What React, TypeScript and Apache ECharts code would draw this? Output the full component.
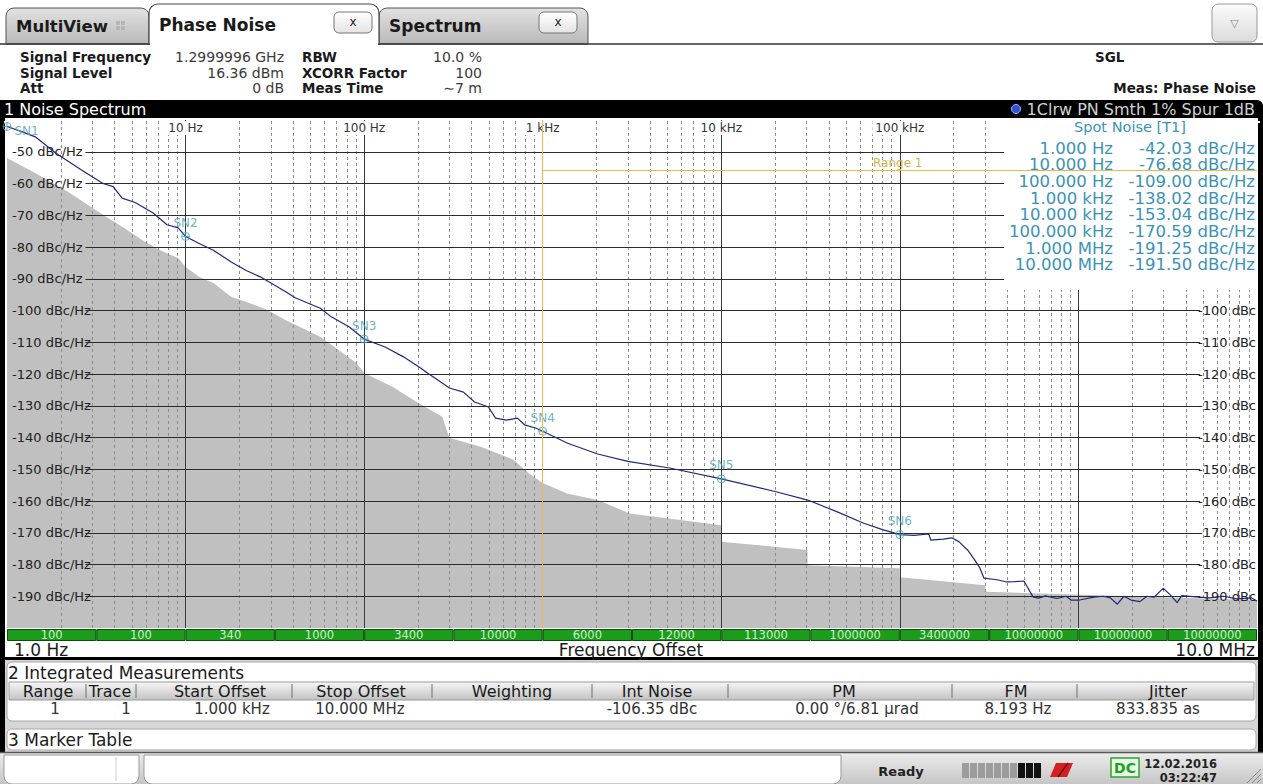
import React, { useEffect, useRef } from 'react';
import * as echarts from 'echarts';

const FONT = 'DejaVu Sans';

// ---------------- data ----------------
const traceFreqHz = [1, 1.2, 1.44, 1.88, 2.6, 3.45, 3.93, 4.41, 5.22, 6.58, 7.88, 9.09, 10, 12, 14.3, 18, 22, 26.2, 36.2, 41.1, 49, 56.8, 65.5, 82.6, 100, 131, 166, 206, 226, 260, 300, 360, 415, 497, 544, 627, 722, 791, 912, 1000, 1380, 2030, 3000, 5140, 10000, 20000, 30500, 45000, 62800, 80000, 100000, 120000, 145000, 149000, 175000, 195000, 214000, 240000, 263000, 280000, 296000, 350000, 398000, 440000, 495000, 557000, 598000, 654000, 759000, 855000, 908000, 1000000, 1220000, 1380000, 1510000, 1650000, 1800000, 1970000, 2210000, 2420000, 2650000, 2980000, 3260000, 3570000, 3790000, 4540000, 5420000, 6490000, 7740000, 9270000, 10000000];
const traceDb = [-42.03, -43.6, -45.3, -50.5, -55.7, -60.0, -61.0, -64.6, -66.0, -69.3, -73.0, -74.0, -76.68, -79.0, -81.0, -84.7, -87.5, -89.4, -94.0, -96.0, -97.8, -99.3, -102.0, -105.2, -109.0, -111.5, -114.6, -118.0, -119.7, -122.0, -124.4, -125.7, -128.8, -130.4, -133.9, -134.5, -133.9, -136.0, -137.0, -138.02, -141.8, -145.2, -147.5, -149.6, -153.04, -157.0, -159.7, -163.5, -167.0, -169.0, -170.59, -170.8, -170.4, -172.3, -172.0, -171.6, -172.8, -175.5, -178.6, -181.0, -184.3, -184.8, -185.5, -185.4, -185.2, -190.2, -190.6, -189.9, -190.7, -190.0, -191.2, -191.25, -190.3, -190.0, -190.5, -192.5, -190.0, -191.2, -191.7, -190.0, -190.3, -187.5, -189.5, -192.0, -189.8, -190.2, -190.5, -190.0, -190.8, -190.5, -191.5];

const floorFreqHz = [1, 1.44, 2.25, 2.84, 3.59, 4.53, 5.71, 7.2, 9.09, 10, 11.9, 14.3, 18, 22.7, 28.6, 36.2, 56.8, 71.7, 90.4, 100, 144, 199, 274, 300, 454, 686, 832, 1000, 1370, 2030, 3070, 10000, 10000, 30400, 30400, 100000, 100000, 301000, 301000, 10000000];
const floorDb = [-52, -56.7, -63, -66.8, -70.5, -74, -77.8, -81, -83.5, -86.3, -89.4, -91.3, -95.7, -97.6, -99.8, -103, -108.3, -112.4, -116.5, -119.7, -124, -129, -133.5, -140.1, -143, -147, -151.2, -154.3, -157.6, -159.7, -163.9, -167.6, -172.8, -175.4, -180.2, -181.2, -184, -186.5, -188.6, -191.2];

const spotFreqHz = [1, 10, 100, 1000, 10000, 100000, 1000000, 10000000];
const spotFreqLabels = ['1.000 Hz', '10.000 Hz', '100.000 Hz', '1.000 kHz', '10.000 kHz', '100.000 kHz', '1.000 MHz', '10.000 MHz'];
const spotDb = [-42.03, -76.68, -109.0, -138.02, -153.04, -170.59, -191.25, -191.5];
const markerNames = ['SN1', 'SN2', 'SN3', 'SN4', 'SN5', 'SN6'];

const decadeLabels = ['', '10 Hz', '100 Hz', '1 kHz', '10 kHz', '100 kHz', '', ''];
const yLeftTicks = [-50, -60, -70, -80, -90, -100, -110, -120, -130, -140, -150, -160, -170, -180, -190];
const yRightTicks = [-100, -110, -120, -130, -140, -150, -160, -170, -180, -190];
const minorMultipliers = [2, 3, 4, 5, 6, 7, 8, 9];
const minorDecadesHz = [1, 10, 100, 1000, 10000, 100000, 1000000];

const rbwLabels = ['100', '100', '340', '1000', '3400', '10000', '6000', '12000', '113000', '1000000', '3400000', '10000000', '10000000', '10000000'];

const rangeStartHz = 1000;
const rangeStopHz = 10000000;
const rangeLevelDb = -55.7;

const tableHeaders = ['Range', 'Trace', 'Start Offset', 'Stop Offset', 'Weighting', 'Int Noise', 'PM', 'FM', 'Jitter'];
const tableValues = ['1', '1', '1.000 kHz', '10.000 MHz', '', '-106.35 dBc', '0.00 °/6.81 µrad', '8.193 Hz', '833.835 as'];

const infoLeftLabels = ['Signal Frequency', 'Signal Level', 'Att'];
const infoLeftValues = ['1.2999996 GHz', '16.36 dBm', '0 dB'];
const infoMidLabels = ['RBW', 'XCORR Factor', 'Meas Time'];
const infoMidValues = ['10.0 %', '100', '\u223C7 m'];

// ---------------- layout ----------------
const GRID_LEFT = 7;
const GRID_RIGHT = 6;
const GRID_TOP = 120;
const GRID_BOTTOM = 156;
const GRID_LINE_START_HZ = 2.75;
const GRID_LINE_END_HZ = 4800000;
const INFO_ROWS_Y = [57, 73, 88];
const HEADER_X = [48, 110, 220, 361, 512, 657, 844, 1016, 1168];
const VALUE_X = [55, 126, 232, 360, 512, 652, 857, 1018, 1158];
const SEP_X = [86, 136, 292, 432, 592, 728, 952, 1077];
const SPOT_TEAL = '#3a93b6';

type AnyObj = Record<string, any>;

const txt = (x: number, y: number, text: string, o: AnyObj = {}) => ({
  type: 'text',
  x,
  y,
  z: o.z ?? 1,
  silent: true,
  style: {
    text,
    fill: o.color ?? '#222',
    fontSize: o.size ?? 14,
    fontFamily: FONT,
    fontWeight: o.weight ?? 'normal',
    align: o.align ?? 'left',
    textAlign: o.align ?? 'left',
    verticalAlign: 'middle',
    textVerticalAlign: 'middle',
  },
});

const rect = (x: number, y: number, w: number, h: number, style: AnyObj, z = 0, r: any = 0) => ({
  type: 'rect',
  z,
  silent: true,
  shape: { x, y, width: w, height: h, r },
  style,
});

const line = (x1: number, y1: number, x2: number, y2: number, stroke: string, lineWidth = 1, z = 1) => ({
  type: 'line',
  z,
  silent: true,
  shape: { x1, y1, x2, y2 },
  style: { stroke, lineWidth },
});

const vgrad = (c1: string, c2: string) =>
  new echarts.graphic.LinearGradient(0, 0, 0, 1, [
    { offset: 0, color: c1 },
    { offset: 1, color: c2 },
  ]);

function buildGraphic() {
  const g: AnyObj[] = [];
  // ---- tabs ----
  g.push(rect(6, 8, 143, 36, { fill: vgrad('#e2e2e2', '#b9b9b9'), stroke: '#555', lineWidth: 1 }, 0, [8, 8, 0, 0]));
  g.push(rect(379, 8, 209, 36, { fill: vgrad('#e2e2e2', '#b9b9b9'), stroke: '#555', lineWidth: 1 }, 0, [8, 8, 0, 0]));
  g.push(line(0, 44, 1263, 44, '#333', 1.5, 1));
  g.push(rect(149, 4, 230, 40, { fill: '#fff', stroke: '#444', lineWidth: 1.2 }, 2, [9, 9, 0, 0]));
  g.push(rect(150, 41, 228, 6, { fill: '#fff' }, 3));
  g.push(txt(16, 26, 'MultiView', { size: 16.5, weight: 'bold', color: '#1a1a1a', z: 4 }));
  [[116, 21], [121, 21], [116, 26], [121, 26]].forEach(([x, y]) =>
    g.push(rect(x, y, 4, 4, { fill: '#b4b4b4' }, 4, 1)),
  );
  g.push(txt(159, 25, 'Phase Noise', { size: 17, weight: 'bold', color: '#1a1a1a', z: 4 }));
  g.push(txt(389, 26, 'Spectrum', { size: 17, weight: 'bold', color: '#1a1a1a', z: 4 }));
  [334, 539].forEach((x) => {
    g.push(rect(x, 12, 38, 21, { fill: vgrad('#ffffff', '#e4e4e4'), stroke: '#777', lineWidth: 1 }, 4, 5));
    g.push(txt(x + 19, 22, 'x', { size: 12, align: 'center', color: '#222', z: 5 }));
  });
  g.push(rect(1212, 4, 45, 38, { fill: vgrad('#fbfbfb', '#dcdcdc'), stroke: '#999', lineWidth: 1 }, 4, 6));
  g.push(txt(1234.5, 23, '\u25BD', { size: 11, align: 'center', color: '#888', z: 5 }));

  // ---- info header ----
  infoLeftLabels.forEach((s, i) => g.push(txt(20, INFO_ROWS_Y[i], s, { size: 13.5, weight: 'bold', color: '#1a1a1a' })));
  infoLeftValues.forEach((s, i) => g.push(txt(284, INFO_ROWS_Y[i], s, { size: 14, align: 'right', color: '#3a3a3a' })));
  infoMidLabels.forEach((s, i) => g.push(txt(302, INFO_ROWS_Y[i], s, { size: 13.5, weight: 'bold', color: '#1a1a1a' })));
  infoMidValues.forEach((s, i) => g.push(txt(482, INFO_ROWS_Y[i], s, { size: 14, align: 'right', color: '#3a3a3a' })));
  g.push(txt(1095, 57, 'SGL', { size: 13.5, weight: 'bold', color: '#1a1a1a' }));
  g.push(txt(1256, 88, 'Meas: Phase Noise', { size: 13.5, weight: 'bold', color: '#1a1a1a', align: 'right' }));

  // ---- title bar & frame ----
  g.push(rect(0, 100, 1263, 18, { fill: '#000' }, 0, [0, 6, 0, 0]));
  g.push(txt(4, 109, '1 Noise Spectrum', { size: 16, color: '#fff', z: 2 }));
  g.push({ type: 'circle', z: 2, silent: true, shape: { cx: 1016, cy: 109, r: 4.5 }, style: { fill: '#2f52d6', stroke: '#9fb4ff', lineWidth: 1 } });
  g.push(txt(1255, 109, '1Clrw PN Smth 1% Spur 1dB', { size: 16, color: '#d0d0d0', align: 'right', z: 2 }));
  g.push(rect(0, 118, 5, 634, { fill: '#000' }, 0));
  g.push(rect(1258, 118, 5, 634, { fill: '#000' }, 0));
  g.push(rect(0, 657, 1263, 3, { fill: '#000' }, 0));

  // ---- frequency range labels ----
  g.push(txt(14, 650, '1.0 Hz', { size: 17, color: '#1a1a1a' }));
  g.push(txt(631, 650, 'Frequency Offset', { size: 17, color: '#1a1a1a', align: 'center' }));
  g.push(txt(1255, 650, '10.0 MHz', { size: 17, color: '#1a1a1a', align: 'right' }));

  // ---- integrated measurements ----
  g.push(rect(5, 660, 1253, 92, { fill: '#d6d6d6' }, 0));
  g.push(rect(7, 662, 1249, 59, { fill: '#fff', stroke: '#a8a8a8', lineWidth: 1 }, 1, 5));
  g.push(txt(8, 673, '2 Integrated Measurements', { size: 17, color: '#1a1a1a', z: 2 }));
  g.push(rect(9, 682, 1245, 18, { fill: vgrad('#f6f6f6', '#c2c2c2'), stroke: '#9a9a9a', lineWidth: 1 }, 2));
  SEP_X.forEach((x) => g.push(line(x, 684, x, 698, '#6e6e6e', 1, 3)));
  tableHeaders.forEach((s, i) => g.push(txt(HEADER_X[i], 691, s, { size: 16, color: '#1a1a1a', align: 'center', z: 3 })));
  tableValues.forEach((s, i) => {
    if (s) g.push(txt(VALUE_X[i], 709, s, { size: 15, color: '#333', align: 'center', z: 3 }));
  });
  g.push(rect(7, 729, 1249, 21, { fill: '#fff', stroke: '#a8a8a8', lineWidth: 1 }, 1, 5));
  g.push(txt(8, 740, '3 Marker Table', { size: 17, color: '#1a1a1a', z: 2 }));

  // ---- status bar ----
  g.push(rect(0, 752, 1263, 32, { fill: vgrad('#ededed', '#c6c6c6') }, 0));
  g.push(line(0, 752.5, 1263, 752.5, '#555', 1.5, 1));
  g.push(rect(4, 755, 135, 29, { fill: '#fff', stroke: '#999', lineWidth: 1 }, 1, [0, 0, 8, 8]));
  g.push(line(116, 757, 116, 781, '#cfcfcf', 1, 2));
  g.push(rect(144, 755, 697, 29, { fill: '#fff', stroke: '#999', lineWidth: 1 }, 1, [0, 0, 8, 8]));
  g.push(txt(901, 771, 'Ready', { size: 13, weight: 'bold', color: '#222', align: 'center', z: 2 }));
  for (let i = 0; i < 10; i++) {
    g.push(rect(962 + i * 8, 763, 7, 15, { fill: i < 7 ? '#9c9c9c' : '#111' }, 2));
  }
  g.push({ type: 'polygon', z: 2, silent: true, shape: { points: [[1050, 777], [1056, 763], [1073, 763], [1067, 777]] }, style: { fill: '#d42020' } });
  g.push(line(1058, 777, 1068, 763, '#7a0a0a', 1.5, 3));
  g.push(rect(1111, 758, 28, 19, { fill: '#e6fae6', stroke: '#2aa52a', lineWidth: 1.5 }, 2));
  g.push(txt(1125, 768, 'DC', { size: 14, weight: 'bold', color: '#1f9f1f', align: 'center', z: 3 }));
  g.push(txt(1217, 764, '12.02.2016', { size: 11.5, weight: 'bold', color: '#222', align: 'right', z: 2 }));
  g.push(txt(1217, 778, '03:22:47', { size: 11.5, weight: 'bold', color: '#222', align: 'right', z: 2 }));
  [0, 5, 10].forEach((d) => g.push(line(1247 + d, 783, 1261, 769 + d, '#888', 1, 2)));

  // ---- spot noise box (over grid) ----
  g.push(rect(1004, 118, 253, 172, { fill: '#fff' }, 6));
  g.push(txt(1130, 127, 'Spot Noise [T1]', { size: 14.5, color: SPOT_TEAL, align: 'center', z: 6 }));
  spotFreqLabels.forEach((s, i) => {
    const y = 148 + i * 16.7;
    g.push(txt(1113, y, s, { size: 16.5, color: SPOT_TEAL, align: 'right', z: 6 }));
    g.push(txt(1255, y, `${spotDb[i].toFixed(2)} dBc/Hz`, { size: 16.5, color: SPOT_TEAL, align: 'right', z: 6 }));
  });
  g.push(txt(873, 163, 'Range 1', { size: 12, color: '#d4b24c', z: 6 }));
  return g;
}

function buildOption() {
  const tracePoints = traceFreqHz.map((f, i) => [f, traceDb[i]]);
  const floorPoints = floorFreqHz.map((f, i) => [f, floorDb[i]]);
  const markerData = markerNames.map((n, i) => ({
    name: n,
    value: [spotFreqHz[i], spotDb[i]],
    label: i === 0 ? { position: 'right', distance: 3, offset: [0, 5] } : undefined,
  }));
  const minorLines: AnyObj[] = [];
  minorDecadesHz.forEach((d) =>
    minorMultipliers.forEach((m) =>
      minorLines.push({ xAxis: d * m, lineStyle: { type: [3, 3], color: '#8e8e8e', width: 1 } }),
    ),
  );
  const hLines = yLeftTicks.map((v) => [
    { coord: [GRID_LINE_START_HZ, v] },
    { coord: [v > -95 ? rangeStopHz : GRID_LINE_END_HZ, v] },
  ]);

  return {
    animation: false,
    backgroundColor: '#fff',
    textStyle: { fontFamily: FONT },
    grid: [
      { left: GRID_LEFT, right: GRID_RIGHT, top: GRID_TOP, bottom: GRID_BOTTOM, containLabel: false },
      { left: GRID_LEFT, right: GRID_RIGHT, top: 629, height: 12, containLabel: false },
    ],
    xAxis: [
      {
        type: 'log', gridIndex: 0, min: 1, max: 1e7, logBase: 10, splitNumber: 7, position: 'top', z: 3,
        axisLine: { show: false }, axisTick: { show: false }, splitLine: { show: false },
        axisLabel: {
          inside: true, margin: 1, fontSize: 12, fontFamily: FONT, color: '#333',
          backgroundColor: '#fff', padding: [1, 3, 1, 3],
          formatter: (v: number) => decadeLabels[Math.round(Math.log10(v))] ?? '',
        },
      },
      {
        type: 'log', gridIndex: 0, min: 1, max: 1e7, logBase: 10, splitNumber: 7, position: 'bottom', z: 2,
        axisLine: { show: false }, axisTick: { show: false }, axisLabel: { show: false },
        splitLine: { show: true, showMinLine: false, showMaxLine: false, lineStyle: { color: '#3a3a3a', width: 1 } },
      },
      { type: 'category', gridIndex: 1, data: rbwLabels, show: false },
    ],
    yAxis: [
      {
        type: 'value', gridIndex: 0, min: -200, max: -40, interval: 10, position: 'left', z: 3,
        axisLine: { show: false }, axisTick: { show: false }, splitLine: { show: false },
        axisLabel: {
          inside: true, margin: 5, fontSize: 13, fontFamily: FONT, color: '#222',
          formatter: (v: number) => (yLeftTicks.includes(v) ? `${v} dBc/Hz` : ''),
        },
      },
      {
        type: 'value', gridIndex: 0, min: -200, max: -40, interval: 10, position: 'right', z: 3,
        axisLine: { show: false }, axisTick: { show: false }, splitLine: { show: false },
        axisLabel: {
          inside: true, margin: 1, fontSize: 13, fontFamily: FONT, color: '#222',
          formatter: (v: number) => (yRightTicks.includes(v) ? `${v} dBc` : ''),
        },
      },
      { type: 'value', gridIndex: 1, min: 0, max: 1, show: false },
    ],
    graphic: { elements: buildGraphic() },
    series: [
      {
        type: 'line', name: 'floor', xAxisIndex: 0, yAxisIndex: 0, data: floorPoints,
        symbol: 'none', showSymbol: false, silent: true, z: 1,
        lineStyle: { width: 0, color: '#c0c0c0' },
        areaStyle: { color: '#c0c0c0', opacity: 1, origin: 'start' },
        markLine: {
          silent: true, symbol: ['none', 'none'], z: 2, animation: false,
          label: { show: false },
          lineStyle: { color: '#2b2b2b', width: 1, type: 'solid' },
          data: [...minorLines, ...hLines],
        },
      },
      {
        type: 'line', name: 'trace', xAxisIndex: 0, yAxisIndex: 0, data: tracePoints,
        symbol: 'none', showSymbol: false, silent: true, z: 4,
        lineStyle: { color: '#1e2a78', width: 1.2 },
        markLine: {
          silent: true, symbol: ['none', 'none'], z: 7, animation: false,
          label: { show: false },
          lineStyle: { color: '#f0b848', width: 1, type: 'solid' },
          data: [
            { xAxis: rangeStartHz },
            [{ coord: [rangeStartHz, rangeLevelDb] }, { coord: [rangeStopHz, rangeLevelDb] }],
          ],
        },
      },
      {
        type: 'scatter', name: 'markers', xAxisIndex: 0, yAxisIndex: 0, data: markerData, silent: true, z: 5,
        symbol: 'path://M5,0A5,5,0,1,1,5,10A5,5,0,1,1,5,0ZM5,0L5,10M0,5L10,5',
        symbolSize: 8,
        itemStyle: { color: 'rgba(0,0,0,0)', borderColor: '#46a0b6', borderWidth: 1 },
        label: { show: true, formatter: '{b}', position: 'top', distance: 3, color: '#46a0b6', fontSize: 12, fontFamily: FONT },
      },
      {
        type: 'bar', name: 'rbw', xAxisIndex: 2, yAxisIndex: 2, silent: true,
        data: rbwLabels.map(() => 1),
        barWidth: '100%', barCategoryGap: '0%',
        itemStyle: { color: '#1b9d1b', borderColor: '#0c4c0c', borderWidth: 1 },
        label: {
          show: true, position: 'inside', color: '#cdeecd', fontSize: 11.5, fontFamily: FONT,
          formatter: (p: any) => rbwLabels[p.dataIndex],
        },
      },
    ],
  };
}

export default function App() {
  const ref = useRef<HTMLDivElement>(null);
  useEffect(() => {
    if (!ref.current) return;
    const chart = echarts.init(ref.current, undefined, { renderer: 'svg' });
    chart.setOption(buildOption() as any);
    return () => chart.dispose();
  }, []);
  return (
    <div
      ref={ref}
      style={{ position: 'fixed', left: 0, top: 0, width: 1263, height: 784, background: '#fff' }}
    />
  );
}
